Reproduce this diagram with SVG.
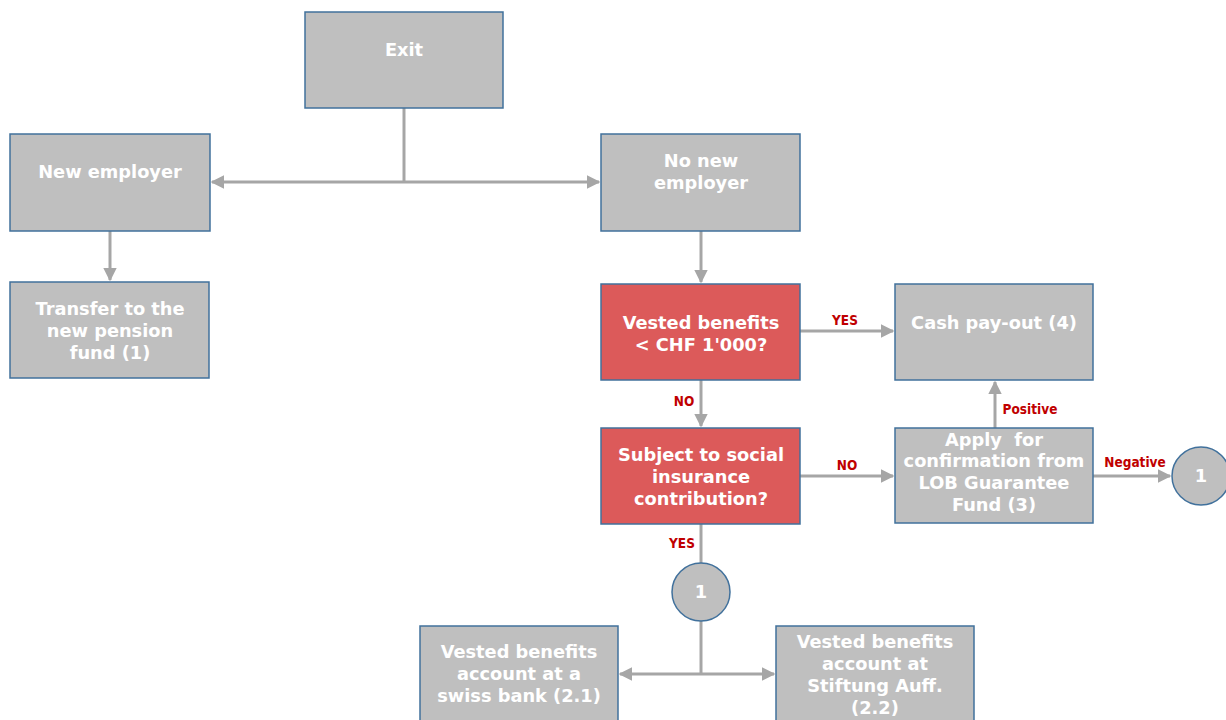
<svg xmlns="http://www.w3.org/2000/svg" width="1226" height="720" viewBox="0 0 1226 720">
<style>
.box{fill:#BFBFBF;stroke:#41719C;stroke-width:1.5}
.red{fill:#DC5A5A;stroke:#41719C;stroke-width:1.5}
.t{font-family:"DejaVu Sans","Liberation Sans",sans-serif;font-weight:bold;font-size:17.8px;fill:#FFFFFF;text-anchor:middle}
.lbl{font-family:"DejaVu Sans Condensed","DejaVu Sans",sans-serif;font-weight:bold;font-size:13.5px;fill:#C00000;text-anchor:middle}
.c{stroke:#A6A6A6;stroke-width:3;fill:none}
</style>
<defs>
<marker id="ah" viewBox="0 0 10 10" refX="9" refY="5" markerWidth="4.5" markerHeight="4.5" orient="auto-start-reverse" markerUnits="strokeWidth">
<path d="M0,0 L10,5 L0,10 z" fill="#A6A6A6"/>
</marker>
</defs>
<rect width="1226" height="720" fill="#FFFFFF"/>
<g id="connectors">
<path class="c" d="M404,108 V182"/>
<path class="c" d="M212,182 H599" marker-start="url(#ah)" marker-end="url(#ah)"/>
<path class="c" d="M110,231 V280" marker-end="url(#ah)"/>
<path class="c" d="M701,231 V282" marker-end="url(#ah)"/>
<path class="c" d="M800,331 H893" marker-end="url(#ah)"/>
<path class="c" d="M701,380 V426" marker-end="url(#ah)"/>
<path class="c" d="M800,476 H893" marker-end="url(#ah)"/>
<path class="c" d="M995,428 V382" marker-end="url(#ah)"/>
<path class="c" d="M1093,476 H1170" marker-end="url(#ah)"/>
<path class="c" d="M701,524 V563"/>
<path class="c" d="M701,621 V674"/>
<path class="c" d="M620,674 H774" marker-start="url(#ah)" marker-end="url(#ah)"/>
<text class="lbl" x="845" y="325">YES</text>
<text class="lbl" x="684" y="406">NO</text>
<text class="lbl" x="847" y="470">NO</text>
<text class="lbl" x="1030" y="414">Positive</text>
<text class="lbl" x="1135" y="467">Negative</text>
<text class="lbl" x="682" y="548">YES</text>
</g>
<g id="exit"><rect class="box" x="305" y="12" width="198" height="96"/><text class="t" x="404" y="56">Exit</text></g>
<g id="new-employer"><rect class="box" x="10" y="134" width="200" height="97"/><text class="t" x="110" y="178">New employer</text></g>
<g id="no-new-employer"><rect class="box" x="601" y="134" width="199" height="97"/><text class="t" x="701" y="167">No new</text><text class="t" x="701" y="189">employer</text></g>
<g id="transfer"><rect class="box" x="10" y="282" width="199" height="96"/><text class="t" x="110" y="315">Transfer to the</text><text class="t" x="110" y="337">new pension</text><text class="t" x="110" y="359">fund (1)</text></g>
<g id="vested-check"><rect class="red" x="601" y="284" width="199" height="96"/><text class="t" x="701" y="329">Vested benefits</text><text class="t" x="701" y="351">&lt; CHF 1'000?</text></g>
<g id="subject"><rect class="red" x="601" y="428" width="199" height="96"/><text class="t" x="701" y="461">Subject to social</text><text class="t" x="701" y="483">insurance</text><text class="t" x="701" y="505">contribution?</text></g>
<g id="cash"><rect class="box" x="895" y="284" width="198" height="96"/><text class="t" x="994" y="329">Cash pay-out (4)</text></g>
<g id="apply"><rect class="box" x="895" y="428" width="198" height="95"/><text class="t" x="994" y="446" xml:space="preserve">Apply  for</text><text class="t" x="994" y="467">confirmation from</text><text class="t" x="994" y="489">LOB Guarantee</text><text class="t" x="994" y="511">Fund (3)</text></g>
<g id="circle-right"><ellipse class="box" cx="1201" cy="476" rx="29" ry="29"/><text class="t" x="1201" y="482">1</text></g>
<g id="circle-bottom"><ellipse class="box" cx="701" cy="592" rx="29" ry="29"/><text class="t" x="701" y="598">1</text></g>
<g id="swiss-bank"><rect class="box" x="420" y="626" width="198" height="100"/><text class="t" x="519" y="658">Vested benefits</text><text class="t" x="519" y="680">account at a</text><text class="t" x="519" y="702">swiss bank (2.1)</text></g>
<g id="stiftung"><rect class="box" x="776" y="626" width="198" height="100"/><text class="t" x="875" y="648">Vested benefits</text><text class="t" x="875" y="670">account at</text><text class="t" x="875" y="692">Stiftung Auff.</text><text class="t" x="875" y="714">(2.2)</text></g>
</svg>
